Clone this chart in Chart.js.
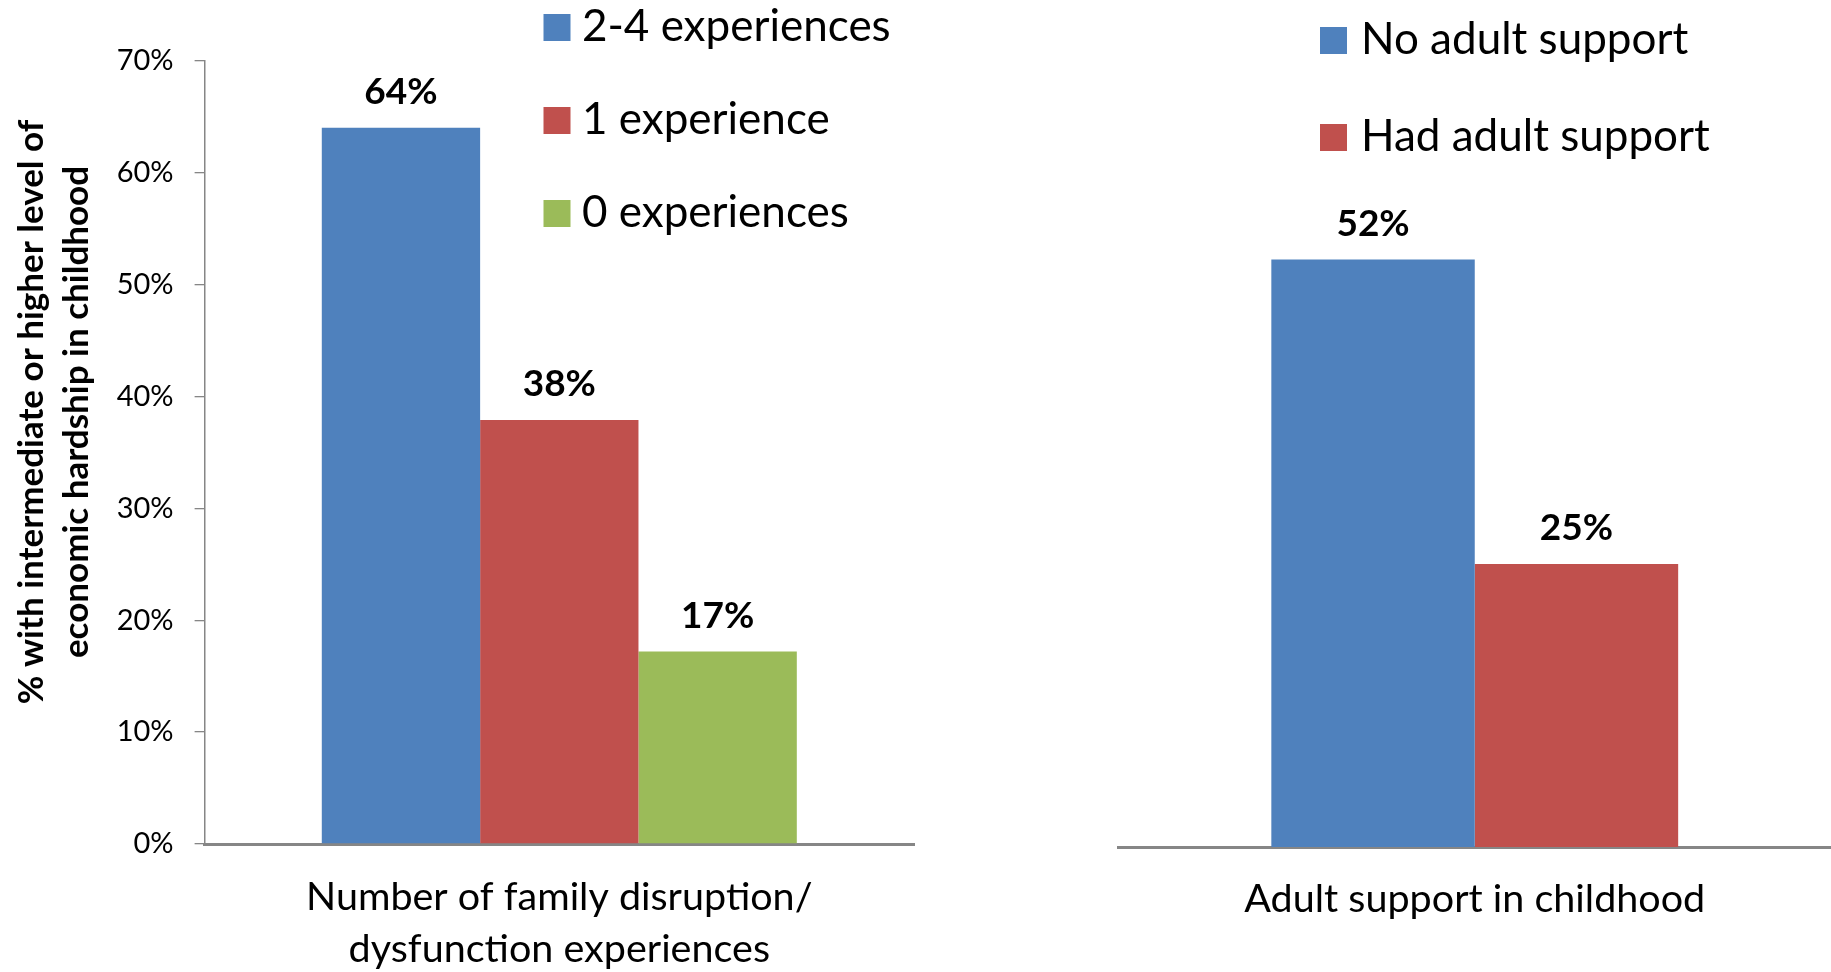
<!DOCTYPE html>
<html>
<head>
<meta charset="utf-8">
<title>Economic hardship in childhood</title>
<script src="https://cdn.jsdelivr.net/npm/chart.js@4.4.1/dist/chart.umd.min.js"></script>
<style>
  html, body { margin: 0; padding: 0; background: #fff; }
  #wrap { position: relative; width: 1831px; height: 972px; overflow: hidden; }
  .panel { position: absolute; top: 0; }
  #left-panel { left: 0; }
  #right-panel { left: 960px; }
</style>
</head>
<body>
<div id="wrap">
  <div class="panel" id="left-panel"><canvas id="left-chart" width="960" height="972"></canvas></div>
  <div class="panel" id="right-panel"><canvas id="right-chart" width="871" height="972"></canvas></div>
</div>
<script>
// left panel: family disruption
const familyCategory = [['Number of family disruption/', 'dysfunction experiences']];
const familySeries = ['2-4 experiences', '1 experience', '0 experiences'];
const familyValues = [64.0, 37.9, 17.2];
const familyLabels = ['64%', '38%', '17%'];

// right panel: adult support
const supportCategory = ['Adult support in childhood'];
const supportSeries = ['No adult support', 'Had adult support'];
const supportValues = [52.5, 25.3];
const supportLabels = ['52%', '25%'];

// shared y axis, 0% to 70%
const yMin = 0;
const yMax = 70;
const yStep = 10;
const yTitle = ['% with intermediate or higher level of', 'economic hardship in childhood'];

const colors = ['#4F81BD', '#C0504D', '#9BBB59'];
const axisGray = '#868686';

Chart.defaults.font.family = 'Lato';
Chart.defaults.color = '#000';

// value above each bar
const barValueLabels = {
  id: 'barValueLabels',
  afterDatasetsDraw(chart, args, opts) {
    const ctx = chart.ctx;
    ctx.save();
    ctx.font = 'bold 37px Lato';
    ctx.fillStyle = '#000';
    ctx.textAlign = 'center';
    ctx.textBaseline = 'alphabetic';
    chart.data.datasets.forEach((ds, i) => {
      const bar = chart.getDatasetMeta(i).data[0];
      ctx.fillText(opts.labels[i], bar.x, bar.y - 24);
    });
    ctx.restore();
  }
};

// stacked legend with square swatches
const boxLegend = {
  id: 'boxLegend',
  afterDraw(chart, args, opts) {
    const ctx = chart.ctx;
    ctx.save();
    ctx.font = '44px Lato';
    ctx.textBaseline = 'alphabetic';
    ctx.textAlign = 'left';
    chart.data.datasets.forEach((ds, i) => {
      const top = opts.y + i * opts.rowGap;
      ctx.fillStyle = ds.backgroundColor;
      ctx.fillRect(opts.x, top, opts.box, opts.box);
      ctx.fillStyle = '#000';
      ctx.fillText(ds.label, opts.x + opts.box + opts.gap, top + opts.box);
    });
    ctx.restore();
  }
};

// rotated two line y title
const sideTitle = {
  id: 'sideTitle',
  afterDraw(chart, args, opts) {
    if (!opts.lines) return;
    const ctx = chart.ctx;
    ctx.save();
    ctx.font = 'bold 35px Lato';
    ctx.fillStyle = '#000';
    ctx.textAlign = 'center';
    ctx.textBaseline = 'alphabetic';
    opts.lines.forEach((t, i) => {
      ctx.save();
      ctx.translate(opts.x[i], opts.y);
      ctx.rotate(-Math.PI / 2);
      ctx.fillText(t, 0, 0);
      ctx.restore();
    });
    ctx.restore();
  }
};

function makeDatasets(series, values) {
  return series.map((name, i) => ({
    label: name,
    data: [values[i]],
    backgroundColor: colors[i],
    borderWidth: 0,
    categoryPercentage: 1,
    barPercentage: 1
  }));
}

function xScale(height, pad) {
  return {
    grid: { display: false, drawTicks: false },
    border: { display: true, color: axisGray, width: 3 },
    ticks: {
      padding: pad,
      font: { size: 39.5, lineHeight: 1.334 },
      color: '#000',
      maxRotation: 0,
      autoSkip: false
    },
    afterFit: (s) => { s.height = height; }
  };
}

// left chart
const leftSets = makeDatasets(familySeries, familyValues);
leftSets.forEach(d => { d.categoryPercentage = 0.6696; });

new Chart(document.getElementById('left-chart'), {
  type: 'bar',
  data: { labels: familyCategory, datasets: leftSets },
  options: {
    responsive: false,
    animation: false,
    layout: { padding: { top: 60.7, right: 46, bottom: 0, left: 0 } },
    plugins: {
      legend: { display: false },
      tooltip: { enabled: false },
      barValueLabels: { labels: familyLabels },
      boxLegend: { x: 543.5, y: 14, box: 27, rowGap: 93, gap: 11.5 },
      sideTitle: { lines: yTitle, x: [43.3, 88.3], y: 412 }
    },
    scales: {
      x: xScale(128, 26.6),
      y: {
        min: yMin,
        max: yMax,
        grid: { display: true, drawOnChartArea: false, drawTicks: true, tickLength: 10, color: axisGray, lineWidth: 1.3 },
        border: { display: true, color: axisGray, width: 1.5 },
        ticks: {
          stepSize: yStep,
          padding: 21,
          font: { size: 29 },
          color: '#000',
          callback: v => v + '%'
        },
        afterFit: (s) => { s.width = 204.6; }
      }
    }
  },
  plugins: [barValueLabels, boxLegend, sideTitle]
});

// right chart
const rightSets = makeDatasets(supportSeries, supportValues);
rightSets.forEach(d => { d.categoryPercentage = 0.571; });

new Chart(document.getElementById('right-chart'), {
  type: 'bar',
  data: { labels: supportCategory, datasets: rightSets },
  options: {
    responsive: false,
    animation: false,
    layout: { padding: { top: 63.7, right: 0, bottom: 0, left: 158.5 } },
    plugins: {
      legend: { display: false },
      tooltip: { enabled: false },
      barValueLabels: { labels: supportLabels },
      boxLegend: { x: 360, y: 27, box: 27, rowGap: 97, gap: 14 },
      sideTitle: {}
    },
    scales: {
      x: xScale(125, 26.3),
      y: { display: false, min: yMin, max: yMax }
    }
  },
  plugins: [barValueLabels, boxLegend, sideTitle]
});
</script>
</body>
</html>
